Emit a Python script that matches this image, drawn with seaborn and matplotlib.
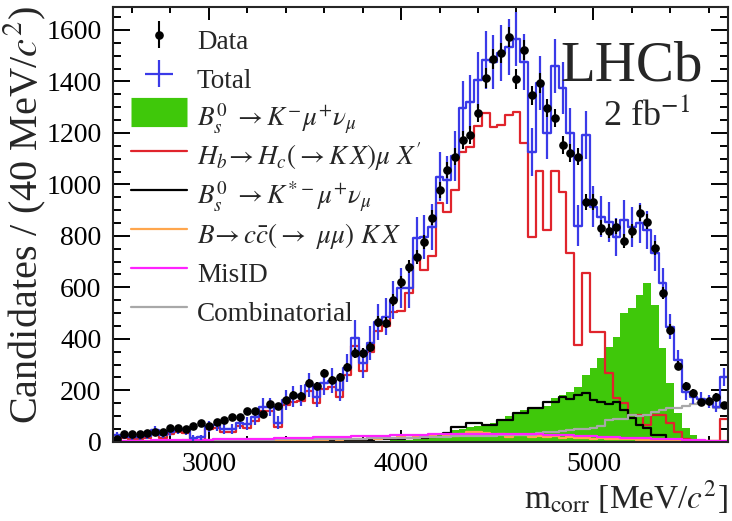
import numpy as np
import pandas as pd
import matplotlib
matplotlib.use("Agg")
import matplotlib.pyplot as plt
from matplotlib.lines import Line2D
import seaborn as sns

# -----------------------------------------------------------
# DATA (40 MeV bins from 2500 to 5700)
# -----------------------------------------------------------
bin_lo = 2500
bin_width = 40
n_bins = 80

data = [12, 31, 31, 31, 35, 40, 38, 54, 54, 50,
        62, 74, 62, 78, 85, 97, 97, 120, 120, 109,
        148, 140, 163, 182, 179, 229, 217, 268, 241, 252,
        291, 345, 345, 369, 466, 462, 551, 621, 680, 718,
        777, 870, 979, 1056, 1107, 1173, 1192, 1278, 1413, 1487,
        1511, 1573, 1410, 1522, 1347, 1394, 1297, 1258, 1153, 1122,
        1107, 932, 932, 831, 819, 835, 781, 819, 889, 854,
        753, 579, 435, 295, 217, 190, 155, 159, 175, 144]

total = [25, 22, 20, 20, 22, 45, 25, 40, 48, 45,
         15, 18, 60, 65, 50, 50, 75, 70, 95, 136,
         136, 75, 163, 175, 180, 221, 175, 229, 237, 202,
         287, 404, 307, 384, 466, 486, 551, 598, 598, 792,
         796, 835, 1029, 1017, 1110, 1297, 1320, 1405, 1483, 1475,
         1510, 1534, 1565, 1475, 1126, 1394, 1200, 1460, 1375, 1200,
         839, 1192, 913, 874, 854, 796, 862, 835, 850, 823,
         734, 617, 447, 318, 194, 175, 167, 155, 136, 252]

total_err = [12, 12, 12, 12, 12, 18, 12, 16, 18, 18,
             10, 10, 22, 22, 20, 20, 25, 25, 28, 35,
             35, 25, 38, 40, 40, 45, 40, 48, 48, 45,
             55, 70, 58, 65, 70, 72, 75, 78, 80, 82,
             85, 88, 95, 95, 98, 105, 105, 108, 112, 105,
             110, 110, 105, 110, 95, 105, 100, 105, 100, 95,
             80, 95, 80, 80, 78, 75, 78, 78, 78, 75,
             70, 60, 48, 40, 30, 28, 25, 25, 22, 35]

sig_bs_kmunu = [0, 0, 0, 0, 0, 0, 0, 0, 0, 0,
                0, 0, 0, 0, 0, 0, 0, 0, 0, 0,
                0, 0, 0, 0, 0, 1, 1, 2, 2, 2,
                3, 3, 4, 4, 5, 5, 6, 7, 8, 10,
                18, 22, 28, 30, 45, 50, 58, 62, 66, 72,
                90, 100, 110, 124, 132, 136, 140, 170, 182, 194,
                214, 260, 287, 326, 369, 408, 500, 520, 571, 617,
                532, 365, 229, 113, 54, 27, 8, 5, 3, 2]

hb_hc = [15, 14, 12, 12, 14, 35, 16, 30, 38, 35,
         6, 8, 48, 52, 38, 38, 60, 55, 80, 118,
         118, 58, 143, 155, 158, 198, 150, 205, 212, 176,
         258, 372, 275, 350, 430, 450, 505, 510, 578, 714,
         668, 720, 928, 893, 979, 1126, 1146, 1227, 1278, 1223,
         1231, 1270, 1281, 1161, 796, 1052, 823, 1052, 971, 734,
         377, 656, 427, 427, 268, 171, 151, 105, 105, 66,
         105, 105, 74, 39, 10, 5, 3, 2, 2, 90]

bs_kstar = [0, 0, 0, 0, 0, 0, 0, 0, 0, 0,
            1, 1, 1, 1, 1, 1, 1, 2, 2, 2,
            2, 2, 3, 3, 3, 4, 4, 5, 5, 6,
            6, 7, 8, 8, 9, 10, 11, 12, 13, 14,
            15, 18, 20, 35, 58, 58, 74, 74, 66, 66,
            85, 85, 113, 113, 132, 132, 155, 155, 175, 168,
            182, 190, 163, 155, 148, 155, 124, 93, 66, 54,
            27, 27, 5, 2, 1, 0, 0, 0, 0, 0]

ccbar = [0, 0, 0, 0, 0, 0, 0, 0, 0, 1,
         1, 1, 1, 1, 2, 2, 2, 2, 3, 3,
         3, 4, 4, 5, 5, 6, 6, 7, 9, 8,
         10, 12, 9, 14, 11, 16, 13, 18, 15, 20,
         18, 25, 20, 28, 24, 30, 38, 40, 36, 25,
         30, 20, 26, 28, 18, 24, 20, 22, 16, 18,
         14, 16, 12, 15, 10, 12, 9, 10, 8, 7,
         6, 8, 5, 5, 4, 4, 3, 3, 2, 2]

misid = [4, 4, 5, 5, 5, 6, 6, 6, 7, 7,
         7, 8, 8, 9, 9, 10, 10, 11, 11, 12,
         12, 13, 14, 15, 16, 16, 17, 18, 19, 19,
         20, 21, 22, 22, 23, 24, 25, 25, 26, 27,
         28, 29, 30, 30, 31, 31, 32, 32, 32, 32,
         32, 31, 31, 30, 30, 29, 28, 27, 26, 25,
         24, 22, 21, 20, 19, 18, 16, 15, 14, 13,
         12, 11, 10, 9, 8, 7, 6, 5, 5, 4]

comb = [3, 3, 4, 4, 4, 5, 5, 5, 5, 6,
        6, 6, 6, 7, 7, 7, 7, 8, 8, 8,
        8, 9, 9, 9, 10, 10, 10, 11, 11, 11,
        12, 12, 12, 13, 13, 14, 14, 15, 15, 16,
        18, 19, 20, 20, 21, 21, 22, 22, 24, 24,
        25, 26, 27, 28, 28, 35, 38, 40, 42, 45,
        50, 50, 55, 60, 85, 88, 90, 105, 100, 105,
        115, 124, 132, 132, 140, 145, 150, 150, 130, 150]

edges = [bin_lo + bin_width * i for i in range(n_bins + 1)]
centers = [e + bin_width / 2 for e in edges[:-1]]

df = pd.DataFrame({
    "center": centers, "data": data, "total": total, "total_err": total_err,
    "signal": sig_bs_kmunu, "hbhc": hb_hc, "kstar": bs_kstar,
    "ccbar": ccbar, "misid": misid, "comb": comb,
})

# colours
c_blue = "#3a3ae8"
c_green = "#3fc80a"
c_red = "#e0242c"
c_orange = "#ffa64d"
c_magenta = "#ff22ff"
c_gray = "#a8a8a8"

# -----------------------------------------------------------
# STYLE
# -----------------------------------------------------------
sns.set_theme(style="ticks")
plt.rcParams["font.family"] = ["Liberation Serif", "DejaVu Serif"]
plt.rcParams["mathtext.fontset"] = "stix"
plt.rcParams["axes.linewidth"] = 1.5

fig = plt.figure(figsize=(7.32, 5.21), dpi=100)
ax = fig.add_axes([0.154, 0.152, 0.8405, 0.835])

# -----------------------------------------------------------
# COMPONENTS
# -----------------------------------------------------------
sns.histplot(data=df, x="center", weights="signal", bins=edges, element="step",
             fill=True, color=c_green, alpha=1, linewidth=0, ax=ax)

line_specs = [("hbhc", c_red), ("kstar", "black"), ("ccbar", c_orange),
              ("comb", c_gray), ("misid", c_magenta)]
for col, colr in line_specs:
    sns.histplot(data=df, x="center", weights=col, bins=edges, element="step",
                 fill=False, color=colr, linewidth=1.6, ax=ax)

# Total fit: step + error crosses
sns.histplot(data=df, x="center", weights="total", bins=edges, element="step",
             fill=False, color=c_blue, linewidth=1.6, ax=ax)
h_total = ax.errorbar(df["center"], df["total"], xerr=bin_width / 2, yerr=df["total_err"],
                      fmt="none", ecolor=c_blue, elinewidth=1.6, capsize=0)

# Data points
h_data = ax.errorbar(df["center"], df["data"], yerr=np.sqrt(df["data"]), fmt="o",
                     ms=5.2, color="black", elinewidth=1.5, capsize=0)

# -----------------------------------------------------------
# AXES
# -----------------------------------------------------------
ax.set_xlim(2500, 5700)
ax.set_ylim(0, 1690)
ax.xaxis.set_major_locator(plt.MultipleLocator(1000))
ax.xaxis.set_minor_locator(plt.MultipleLocator(200))
ax.yaxis.set_major_locator(plt.MultipleLocator(200))
ax.yaxis.set_minor_locator(plt.MultipleLocator(50))
ax.tick_params(which="both", direction="in", top=True, right=True, width=1.4,
               labelsize=20, colors="black")
ax.tick_params(axis="y", which="major", length=12, pad=8)
ax.tick_params(axis="y", which="minor", length=6)
ax.tick_params(axis="x", which="major", length=9, pad=7)
ax.tick_params(axis="x", which="minor", length=4.5)

ax.set_ylabel("Candidates / (40 MeV/$c^{2}$)", fontsize=29, loc="top")
ax.yaxis.set_label_coords(-0.105, 1.0)
ax.set_xlabel(r"m$_{\rm corr}$ [MeV/$c^{2}$]", fontsize=24, loc="right")
ax.xaxis.set_label_coords(1.0, -0.085)

# -----------------------------------------------------------
# LEGEND AND LABELS
# -----------------------------------------------------------
handles = [h_data, h_total,
           Line2D([], [], color=c_green, lw=21, solid_capstyle="butt"),
           Line2D([], [], color=c_red, lw=1.6), Line2D([], [], color="black", lw=1.6),
           Line2D([], [], color=c_orange, lw=1.6), Line2D([], [], color=c_magenta, lw=1.6),
           Line2D([], [], color=c_gray, lw=1.6)]
labels = ["Data", "Total",
          r"$B_s^0\ \rightarrow K^{-}\mu^{+}\nu_{\mu}$",
          r"$H_b\!\rightarrow H_c(\rightarrow K\,X)\mu\ X'$",
          r"$B_s^0\ \rightarrow K^{*-}\mu^{+}\nu_{\mu}$",
          r"$B\!\rightarrow c\bar{c}(\rightarrow\ \mu\mu)\ K\,X$",
          "MisID", "Combinatorial"]
ax.legend(handles, labels, loc="upper left", bbox_to_anchor=(0.029, 0.968),
          frameon=False, fontsize=19.5, handlelength=2.1, handleheight=1.83,
          handletextpad=0.35, labelspacing=0.0, borderaxespad=0, borderpad=0)

ax.text(0.844, 0.862, "LHCb", transform=ax.transAxes, fontsize=41,
        ha="center", va="center")
ax.text(0.867, 0.75, "2 fb$^{-1}$", transform=ax.transAxes, fontsize=26,
        ha="center", va="center")

fig.savefig("out.png", dpi=100)
